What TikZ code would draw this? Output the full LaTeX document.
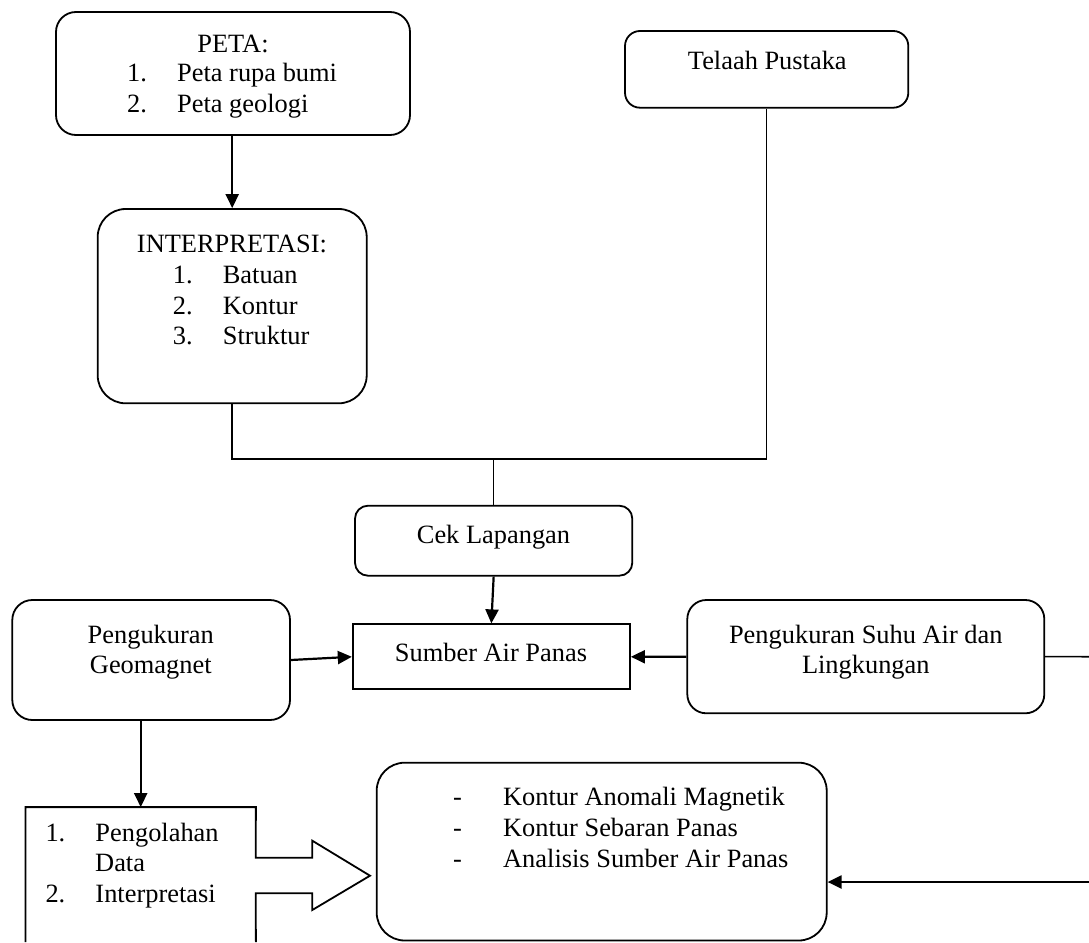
\documentclass[tikz,border=0pt]{standalone}
\usepackage{fontspec}
\setmainfont{Liberation Serif}
\usetikzlibrary{arrows.meta,fit,calc}
\newcommand\itmx[2]{\makebox[50pt][l]{#1}#2}
\begin{document}
\begin{tikzpicture}[x=1pt,y=-1pt,
 txt/.style={inner sep=0pt, font=\fontsize{26.4}{30.4}\selectfont},
 frame/.style={draw, line width=1.8pt, inner sep=0pt},
 region/.style={inner sep=0pt},
 arr/.style={line width=2.2pt, -{Triangle[length=14pt,width=13pt]}},
 link/.style={line width=1.6pt}]
\useasboundingbox (0,0) rectangle (1089,942);

% boxes
\node[frame, rounded corners=20pt, fit={(56,12) (410,135)}] (peta) {};
\node[frame, rounded corners=28pt, fit={(97.7,209) (366.7,403.3)}] (interp) {};
\node[frame, rounded corners=15pt, fit={(625,31) (908.3,107.7)}] (telaah) {};
\node[frame, rounded corners=13pt, fit={(355,505.7) (632.3,575.7)}] (cek) {};
\node[frame, fit={(352.7,624.3) (630,689.3)}] (sumber) {};
\node[frame, rounded corners=20pt, fit={(12.3,600) (290,720)}] (geo) {};
\node[frame, rounded corners=19pt, fit={(687.3,600) (1044.3,713.3)}] (suhu) {};
\node[frame, rounded corners=28pt, fit={(376.7,762.7) (826.7,940.5)}] (res) {};
\node[region, fit={(25.7,807.3) (255.7,942)}] (olah) {};

% bottom-left open box merged with block arrow
\draw[line width=1.8pt, line join=miter]
  (olah.south west) -- (olah.north west) -- (olah.north east)
  -- (255.7,857.7) -- (312.3,857.7) -- (312.3,840.7) -- (370,875.7)
  -- (312.3,910) -- (312.3,893.3) -- (255.7,893.3) -- (olah.south east);

% texts
\node[txt, anchor=base] (petaH) at (233,52.3) {PETA:};
\node[txt, anchor=base west] (peta1) at (127,81.7) {\itmx{1.}{Peta rupa bumi}};
\node[txt, anchor=base west] (peta2) at (127,112.3) {\itmx{2.}{Peta geologi}};

\node[txt, anchor=base] (interpH) at (232,252.3) {INTERPRETASI:};
\node[txt, anchor=base west] (interp1) at (172.7,283.5) {\itmx{1.}{Batuan}};
\node[txt, anchor=base west] (interp2) at (172.7,314) {\itmx{2.}{Kontur}};
\node[txt, anchor=base west] (interp3) at (172.7,344.5) {\itmx{3.}{Struktur}};

\node[txt, anchor=base] (telaahT) at (767.3,70) {Telaah Pustaka};
\node[txt, anchor=base] (cekT) at (493.5,543.3) {Cek Lapangan};
\node[txt, anchor=base] (sumberT) at (491,661) {Sumber Air Panas};

\node[txt, anchor=base] (geo1) at (150.8,643) {Pengukuran};
\node[txt, anchor=base] (geo2) at (150.8,673) {Geomagnet};

\node[txt, anchor=base] (suhu1) at (865.8,643) {Pengukuran Suhu Air dan};
\node[txt, anchor=base] (suhu2) at (865.8,673) {Lingkungan};

\node[txt, anchor=base west] (res1) at (453,805) {\itmx{-}{Kontur Anomali Magnetik}};
\node[txt, anchor=base west] (res2) at (453,836) {\itmx{-}{Kontur Sebaran Panas}};
\node[txt, anchor=base west] (res3) at (453,867) {\itmx{-}{Analisis Sumber Air Panas}};

\node[txt, anchor=base west] (olah1) at (45.3,841.7) {\itmx{1.}{Pengolahan}};
\node[txt, anchor=base west] (olah2) at (95,871.7) {Data};
\node[txt, anchor=base west] (olah3) at (45.3,902.5) {\itmx{2.}{Interpretasi}};

% connectors
\coordinate (j) at (cek.north |- 0,459);
\coordinate (r1) at (1089,656.7);
\coordinate (r2) at (1089,882);

\draw[arr] (peta.south -| interp.north) -- (interp.north);
\draw[link] (interp.south) -- (interp.south |- j) -- (telaah.south |- j) -- (telaah.south);
\draw[link] (j) -- (cek.north);
\draw[arr] (cek.south) -- (sumber.north);
\draw[arr] (geo.east) -- (sumber.west);
\draw[arr] (suhu.west) -- (sumber.east);
\draw[link] (suhu.east) -- (r1);
\draw[arr] (r2) -- (r2 -| res.east);
\draw[arr] (olah.north |- geo.south) -- (olah.north);
\end{tikzpicture}
\end{document}
